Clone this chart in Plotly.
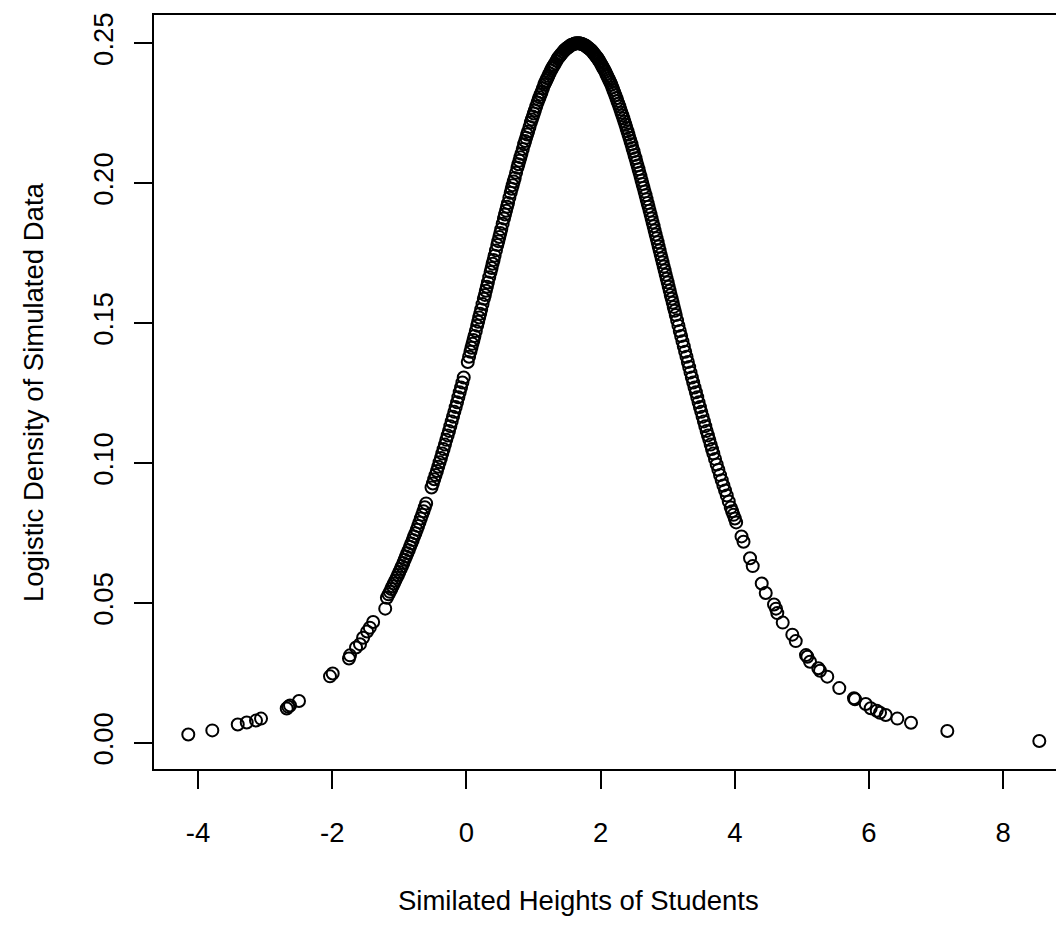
import plotly.graph_objects as go

# Simulated heights (x) and their logistic density (y)
x_left_tail = [-4.145, -3.787, -3.408, -3.274, -3.136, -3.061, -2.678, -2.654, -2.629, -2.495,
               -2.033, -1.993, -1.750, -1.735, -1.645, -1.586]
y_left_tail = [0.0030, 0.0045, 0.0066, 0.0073, 0.0080, 0.0087, 0.0123, 0.0129, 0.0134, 0.0150,
               0.0238, 0.0248, 0.0302, 0.0313, 0.0341, 0.0353]

x_left = [-1.54, -1.48, -1.44, -1.39, -1.21, -1.16, -1.12, -1.08, -1.04, -1.00, -0.96, -0.92,
          -0.88, -0.84, -0.80, -0.76, -0.72, -0.68, -0.64, -0.60, -0.52, -0.48, -0.44, -0.40,
          -0.36, -0.32, -0.28, -0.24, -0.20, -0.16, -0.12, -0.08, -0.04, 0.02, 0.06, 0.09,
          0.12, 0.16, 0.19, 0.22, 0.26, 0.29, 0.32, 0.36, 0.39, 0.42, 0.46, 0.49, 0.52, 0.56,
          0.59, 0.62, 0.66, 0.69, 0.72, 0.76, 0.79, 0.82, 0.86, 0.89, 0.92, 0.96, 0.99, 1.02,
          1.06, 1.09, 1.12, 1.16, 1.19, 1.22, 1.26, 1.29, 1.32, 1.36, 1.39, 1.42, 1.46, 1.49,
          1.52, 1.56, 1.59, 1.62, 1.66]
y_left = [0.0376, 0.0398, 0.0412, 0.0432, 0.0480, 0.0531, 0.0550, 0.0570, 0.0590, 0.0611,
          0.0632, 0.0655, 0.0678, 0.0701, 0.0725, 0.0749, 0.0775, 0.0802, 0.0828, 0.0856,
          0.0913, 0.0942, 0.0972, 0.1003, 0.1034, 0.1066, 0.1099, 0.1132, 0.1166, 0.1200,
          0.1235, 0.1270, 0.1306, 0.1361, 0.1398, 0.1426, 0.1454, 0.1491, 0.1520, 0.1549,
          0.1587, 0.1616, 0.1645, 0.1683, 0.1712, 0.1741, 0.1779, 0.1808, 0.1836, 0.1874,
          0.1902, 0.1929, 0.1966, 0.1993, 0.2019, 0.2055, 0.2080, 0.2105, 0.2139, 0.2162,
          0.2185, 0.2217, 0.2238, 0.2260, 0.2288, 0.2307, 0.2326, 0.2352, 0.2367, 0.2383,
          0.2403, 0.2416, 0.2428, 0.2445, 0.2454, 0.2463, 0.2475, 0.2481, 0.2486, 0.2494,
          0.2496, 0.2499, 0.2500]

x_left_b = [-1.185, -1.14, -1.10, -1.06, -1.02, -0.98, -0.94, -0.90, -0.86, -0.82, -0.78, -0.74,
            -0.70, -0.66, -0.62, -0.50, -0.46, -0.42, -0.38, -0.34, -0.30, -0.26, -0.22, -0.18,
            -0.14, -0.10, -0.06, 0.04, 0.075, 0.105, 0.14, 0.175, 0.205, 0.24, 0.275, 0.305,
            0.34, 0.375, 0.405, 0.44, 0.475, 0.505, 0.54, 0.575, 0.605, 0.64, 0.675, 0.705,
            0.74, 0.775, 0.805, 0.84, 0.875, 0.905, 0.94, 0.975, 1.005, 1.04, 1.075, 1.105,
            1.14, 1.175, 1.205, 1.24, 1.275, 1.305, 1.34, 1.375, 1.405, 1.44, 1.475, 1.505,
            1.54, 1.575, 1.605, 1.64]
y_left_b = [0.0519, 0.0540, 0.0560, 0.0580, 0.0600, 0.0622, 0.0643, 0.0666, 0.0689, 0.0713,
            0.0738, 0.0762, 0.0788, 0.0815, 0.0842, 0.0927, 0.0957, 0.0987, 0.1018, 0.1050,
            0.1083, 0.1115, 0.1149, 0.1183, 0.1217, 0.1253, 0.1288, 0.1380, 0.1412, 0.1440,
            0.1472, 0.1505, 0.1534, 0.1568, 0.1601, 0.1630, 0.1664, 0.1697, 0.1726, 0.1760,
            0.1793, 0.1822, 0.1855, 0.1888, 0.1916, 0.1948, 0.1980, 0.2006, 0.2037, 0.2068,
            0.2093, 0.2122, 0.2151, 0.2174, 0.2201, 0.2228, 0.2249, 0.2274, 0.2298, 0.2317,
            0.2339, 0.2360, 0.2375, 0.2393, 0.2410, 0.2422, 0.2437, 0.2450, 0.2459, 0.2469,
            0.2478, 0.2484, 0.2490, 0.2495, 0.2498, 0.2500]

x_right = [1.68, 1.71, 1.74, 1.77, 1.80, 1.83, 1.86, 1.89, 1.92, 1.95, 1.98, 2.01, 2.04, 2.07,
           2.10, 2.13, 2.16, 2.19, 2.22, 2.25, 2.28, 2.31, 2.34, 2.37, 2.40, 2.43, 2.46, 2.49,
           2.52, 2.55, 2.58, 2.61, 2.64, 2.67, 2.70, 2.73, 2.76, 2.79, 2.82, 2.85, 2.88, 2.91,
           2.94, 2.97, 3.00, 3.03, 3.06, 3.09, 3.12, 3.16, 3.20, 3.24, 3.28, 3.32, 3.36, 3.40,
           3.44, 3.48, 3.52, 3.56, 3.60, 3.64, 3.68, 3.73, 3.78, 3.83, 3.88, 3.94, 3.98, 4.02,
           4.10, 4.13]
y_right = [0.2500, 0.2498, 0.2496, 0.2492, 0.2486, 0.2481, 0.2475, 0.2466, 0.2457, 0.2448,
           0.2437, 0.2424, 0.2411, 0.2398, 0.2383, 0.2367, 0.2352, 0.2333, 0.2314, 0.2294,
           0.2274, 0.2252, 0.2231, 0.2209, 0.2186, 0.2162, 0.2139, 0.2114, 0.2089, 0.2063,
           0.2037, 0.2010, 0.1984, 0.1957, 0.1929, 0.1902, 0.1874, 0.1846, 0.1817, 0.1789,
           0.1760, 0.1731, 0.1702, 0.1673, 0.1645, 0.1616, 0.1587, 0.1558, 0.1529, 0.1491,
           0.1454, 0.1417, 0.1380, 0.1343, 0.1306, 0.1270, 0.1235, 0.1200, 0.1166, 0.1132,
           0.1099, 0.1066, 0.1034, 0.0995, 0.0957, 0.0920, 0.0884, 0.0841, 0.0815, 0.0788,
           0.0738, 0.0719]

x_right_b = [1.695, 1.725, 1.755, 1.785, 1.815, 1.845, 1.875, 1.905, 1.935, 1.965, 1.995, 2.025,
             2.055, 2.085, 2.115, 2.145, 2.175, 2.205, 2.235, 2.265, 2.295, 2.325, 2.355, 2.385,
             2.415, 2.445, 2.475, 2.505, 2.535, 2.565, 2.595, 2.625, 2.655, 2.685, 2.715, 2.745,
             2.775, 2.805, 2.835, 2.865, 2.895, 2.925, 2.955, 2.985, 3.015, 3.045, 3.075, 3.105,
             3.14, 3.18, 3.22, 3.26, 3.30, 3.34, 3.38, 3.42, 3.46, 3.50, 3.54, 3.58, 3.62, 3.66,
             3.705, 3.755, 3.805, 3.855, 3.91, 3.96, 4.00]
y_right_b = [0.2499, 0.2497, 0.2494, 0.2490, 0.2484, 0.2478, 0.2471, 0.2462, 0.2452, 0.2443,
             0.2431, 0.2418, 0.2405, 0.2390, 0.2375, 0.2360, 0.2342, 0.2323, 0.2304, 0.2284,
             0.2263, 0.2242, 0.2220, 0.2197, 0.2174, 0.2151, 0.2126, 0.2101, 0.2076, 0.2050,
             0.2024, 0.1997, 0.1970, 0.1943, 0.1916, 0.1888, 0.1860, 0.1831, 0.1803, 0.1774,
             0.1745, 0.1717, 0.1688, 0.1659, 0.1630, 0.1601, 0.1573, 0.1544, 0.1510, 0.1472,
             0.1435, 0.1398, 0.1361, 0.1324, 0.1288, 0.1253, 0.1217, 0.1183, 0.1149, 0.1115,
             0.1083, 0.1050, 0.1015, 0.0976, 0.0939, 0.0902, 0.0863, 0.0828, 0.0802]

x_right_tail = [4.227, 4.267, 4.401, 4.461, 4.584, 4.614, 4.633, 4.714, 4.857, 4.908, 5.061,
                5.081, 5.121, 5.244, 5.270, 5.378, 5.557, 5.776, 5.791, 5.951, 6.025, 6.115,
                6.164, 6.249, 6.422, 6.626, 7.167, 8.538]
y_right_tail = [0.0660, 0.0632, 0.0570, 0.0536, 0.0495, 0.0480, 0.0464, 0.0430, 0.0387, 0.0364,
                0.0314, 0.0308, 0.0290, 0.0267, 0.0258, 0.0237, 0.0196, 0.0160, 0.0156, 0.0139,
                0.0124, 0.0115, 0.0108, 0.0100, 0.0087, 0.0072, 0.0043, 0.0007]

x_vals = x_left_tail + x_left + x_left_b + x_right + x_right_b + x_right_tail
y_vals = y_left_tail + y_left + y_left_b + y_right + y_right_b + y_right_tail

x_ticks = [-4, -2, 0, 2, 4, 6, 8]
x_tick_text = ["-4", "-2", "0", "2", "4", "6", "8"]
y_ticks = [0.00, 0.05, 0.10, 0.15, 0.20, 0.25]
y_tick_text = ["0.00", "0.05", "0.10", "0.15", "0.20", "0.25"]

FONT = "Liberation Sans, Arial, sans-serif"
FS = 27.5

fig = go.Figure(go.Scatter(
    x=x_vals, y=y_vals, mode="markers",
    marker=dict(symbol="circle-open", size=12, color="black", line=dict(width=2, color="black")),
    hoverinfo="x+y",
))

fig.update_layout(
    width=1056, height=919,
    margin=dict(l=146, r=0, t=7, b=158),
    paper_bgcolor="white", plot_bgcolor="white",
    showlegend=False,
    font=dict(family=FONT, size=FS, color="black"),
    xaxis=dict(range=[-4.656, 8.906], tickvals=x_ticks, ticktext=x_tick_text, ticks="outside",
               ticklen=18, tickwidth=1.5, tickcolor="black", showline=True, linecolor="black",
               linewidth=1.5, mirror=True, showgrid=False, zeroline=False, ticklabelstandoff=20,
               tickfont=dict(family=FONT, size=FS, color="black")),
    yaxis=dict(range=[-0.0093, 0.2601], tickvals=y_ticks, ticktext=y_tick_text, ticks="outside",
               ticklen=18, tickwidth=1.5, tickcolor="black", showline=True, linecolor="black",
               linewidth=1.5, mirror=False, showgrid=False, zeroline=False, tickangle=-90,
               ticklabelstandoff=10, tickfont=dict(family=FONT, size=FS, color="black")),
    annotations=[
        dict(text="Similated Heights of Students", xref="paper", yref="paper", x=0.467, y=0,
             xanchor="center", yanchor="middle", yshift=-131, showarrow=False,
             font=dict(family=FONT, size=FS, color="black")),
        dict(text="Logistic Density of Simulated Data", xref="paper", yref="paper", x=0, y=0.5,
             xanchor="center", yanchor="middle", xshift=-121, textangle=-90, showarrow=False,
             font=dict(family=FONT, size=FS, color="black")),
    ],
)

fig.write_html("out.html")
